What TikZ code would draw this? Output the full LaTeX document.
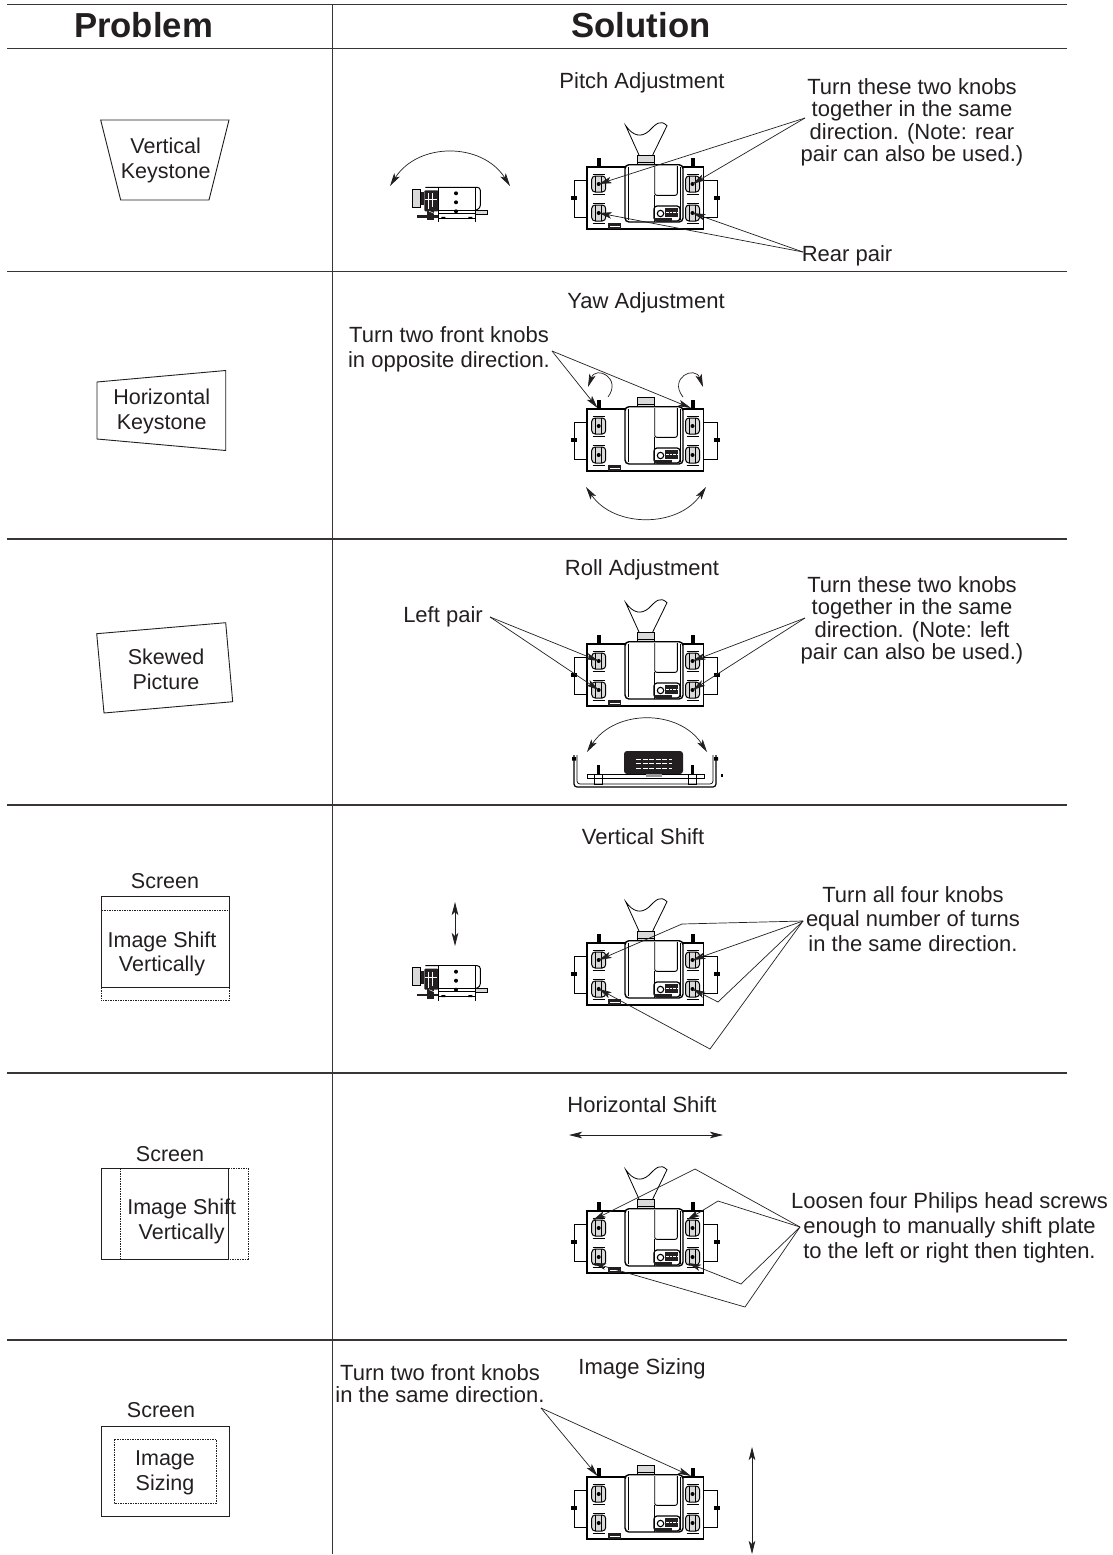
\documentclass[tikz,border=0pt]{standalone}
\usepackage{fontspec}
\setmainfont{Liberation Sans}
\usetikzlibrary{arrows.meta}
\definecolor{inkc}{HTML}{231F20}
\tikzset{
  tablerule/.style={line width=1.3pt,draw=inkc!90},
  outl/.style={line width=.9pt,draw=inkc},
  dashbox/.style={line width=.8pt,draw=inkc,dash pattern=on 1.5pt off 1pt},
  headtxt/.style={inner sep=0,anchor=base,text=inkc,font=\fontsize{34.7}{36}\selectfont\bfseries},
  lbl/.style={inner sep=0,text=inkc,align=center,font=\fontsize{22}{22.5}\selectfont},
  lblw/.style={inner sep=0,text=inkc,align=center,font=\fontsize{22}{24.8}\selectfont},
  lblp/.style={inner sep=0,text=inkc,align=center,font=\fontsize{21.5}{24.5}\selectfont},
  ptr/.style={line width=.7pt,draw=inkc,-{Stealth[length=13pt,width=6.5pt,inset=3pt]}},
  dbl/.style={line width=.7pt,draw=inkc,{Stealth[length=13pt,width=6.5pt,inset=3pt]}-{Stealth[length=13pt,width=6.5pt,inset=3pt]}},
  projtop/.pic={
    \draw[line width=1.2pt] (0,0) rectangle (116.5,62);
    \draw[line width=1pt] (0,13) -- (-13,13) -- (-13,50) -- (0,50);
    \draw[line width=1pt] (116.5,13) -- (130,13) -- (130,50) -- (116.5,50);
    \fill (-16,29) rectangle (-10,33);
    \fill (127,29) rectangle (133,33);
    \foreach \kx in {11.7,105.5} {
      \fill (\kx-2,-9) rectangle (\kx+2,0);
      \foreach \ky in {17,46} {
        \draw[line width=1pt,fill=white!85!black,rounded corners=3.5pt] (\kx-7,\ky-8) rectangle (\kx+7,\ky+8);
        \draw[line width=.5pt] (\kx-3,\ky-8) -- (\kx-3,\ky+8) (\kx+3,\ky-8) -- (\kx+3,\ky+8);
        \draw[line width=.9pt] (\kx-6,\ky-10) -- (\kx+6,\ky-10) (\kx-6,\ky+10) -- (\kx+6,\ky+10);
        \fill (\kx,\ky) circle (2pt);
      }
    }
    \draw[line width=1.4pt,fill=white,rounded corners=4pt] (38,-2.3) rectangle (96,55);
    \draw[line width=.7pt] (41,0) -- (41,53) (93.5,0) -- (93.5,53);
    \draw[line width=.9pt,rounded corners=2pt] (67.7,-1) -- (67.7,28.3) -- (90.3,28.3) -- (90.3,-1);
    \draw[line width=.7pt] (67.7,28.3) -- (67.7,55);
    \draw[line width=1.2pt,rounded corners=3pt] (67,39) rectangle (93,54);
    \draw[line width=1.1pt] (73.5,46.5) circle (3.2pt);
    \fill[inkc] (78,41) rectangle (91,50);
    \draw[white,line width=1.5pt,dash pattern=on 2.5pt off 1pt] (79,45.5) -- (91,45.5);
    \fill[inkc] (67,50.5) rectangle (85,54);
    \fill[inkc] (21.3,56) rectangle (33.7,62);
    \draw[white,line width=.6pt] (22.5,59) -- (32.5,59);
    \draw[line width=1pt,fill=white!85!black] (50,-12) rectangle (67.3,-2.3);
    \draw[line width=.5pt] (50,-5) -- (67.3,-5);
    \coordinate (-ktl) at (11.7,17);
    \coordinate (-ktr) at (105.5,17);
    \coordinate (-kbl) at (11.7,46);
    \coordinate (-kbr) at (105.5,46);
    \coordinate (-ptl) at (10.5,-1);
    \coordinate (-ptr) at (104,-1);
    \coordinate (-stl) at (6,9);
    \coordinate (-str) at (100,9);
    \coordinate (-sbl) at (6,52);
    \coordinate (-sbr) at (101,52);
  },
  projcone/.pic={
    \draw[line width=.8pt] (52,-12) -- (38.7,-41.3) .. controls (46,-31) and (54,-29) .. (62,-36)
      .. controls (69,-43) and (73,-48) .. (80,-41.3) -- (65.7,-12);
  },
  projside/.pic={
    \draw[line width=1pt,fill=white!85!black] (-25.7,2) rectangle (-17.7,20);
    \draw[line width=1pt,rounded corners=3pt] (-13,0) -- (42,0) -- (42,21) -- (37,23);
    \fill[inkc] (-17.7,5) rectangle (-14,18);
    \fill[inkc,rounded corners=1pt] (-14,3) rectangle (0,24);
    \draw[white,line width=.7pt] (-10,6) -- (-10,22) (-6,6) -- (-6,20) (-13,12) -- (-1,12);
    \draw[line width=1pt,fill=white] (0,0) rectangle (37,23);
    \foreach \dy in {6,15,24} \fill (17.7,\dy) circle (2pt);
    \draw[line width=.9pt] (0,26) -- (37,26);
    \draw[line width=.9pt] (0,0) -- (0,35) (37,0) -- (37,35);
    \draw[line width=.9pt] (0,31) -- (37,31);
    \fill (3,29.5) rectangle (7,31.5) (30,29.5) rectangle (34,31.5);
    \draw[line width=.9pt,fill=white!85!black] (37,23) rectangle (49,27);
    \fill[inkc] (-21,28) rectangle (0,30.5);
    \fill[inkc] (-11,22) rectangle (-4,33);
    \draw[white,line width=.5pt] (-9,24) -- (-2,27);
  },
  projroll/.pic={
    \draw[line width=1.2pt,rounded corners=3pt] (0,1) -- (0,33) -- (142,33) -- (142,1);
    \draw[line width=.7pt,rounded corners=3pt] (3,1) -- (3,30) -- (139,30) -- (139,1);
    \fill (-2,3) rectangle (2,6.5) (140,3) rectangle (144,6.5);
    \draw[line width=.8pt] (13,20) rectangle (130,24);
    \fill[inkc,rounded corners=3pt] (50,-3) rectangle (109,20);
    \draw[white,line width=1pt,dash pattern=on 5pt off 1.5pt] (62,5) -- (98,5) (62,9) -- (98,9) (62,14) -- (98,14);
    \fill[white!60!black] (72,20) rectangle (88,23);
    \foreach \bx in {24,118} {
      \fill (\bx-1.5,11) rectangle (\bx+1.5,20);
      \draw[line width=1pt] (\bx-4,20) rectangle (\bx+4,30);
    }
  }
}
\begin{document}
\begin{tikzpicture}[x=1pt,y=-1pt]
\useasboundingbox (0,0) rectangle (1112,1555);

% table rules
\coordinate (tl) at (7,4.7);
\coordinate (tr) at (1067,4.7);
\coordinate (vt) at (332.7,4.7);
\coordinate (vb) at (332.7,1554);
\draw[tablerule] (tl) -- (tr);
\draw[tablerule] (vt) -- (vb);
\foreach \ry in {48.5,271.5,539,805,1073,1340} {
  \coordinate (ra) at (7,\ry);
  \coordinate (rb) at (1067,\ry);
  \draw[tablerule] (ra) -- (rb);
}
\node[headtxt] (problem) at (143.5,37.7) {Problem};
\node[headtxt] (solution) at (641,37.7) {Solution};

% problem column
\node[lblp] (vk) at (165.7,160.5) {Vertical\\Keystone};
\draw[outl] (100.7,120) -- (229,120) -- (209,200) -- (120.7,200) -- cycle;
\node[lblp] (hk) at (161.7,411.5) {Horizontal\\Keystone};
\draw[outl] (97,382) -- (225.7,370.5) -- (225.7,450.5) -- (97,439) -- cycle;
\node[lblp] (sp) at (166,669.5) {Skewed\\Picture};
\draw[outl] (96.7,633.7) -- (225.7,622.7) -- (232.7,701.7) -- (104,713) -- cycle;

\node[lblp] (sv) at (165,881) {Screen};
\draw[outl] (101,896) rectangle (229,987);
\draw[dashbox] (101,910) rectangle (229,1000.7);
\node[lblp] (iv) at (162,954) {Image Shift\\Vertically};

\node[lblp] (sh) at (170,1154) {Screen};
\draw[outl] (101,1168) rectangle (228.5,1259);
\draw[dashbox] (120.7,1168) rectangle (248,1259);
\node[lblp] (ih) at (181.7,1221.5) {Image Shift\\Vertically};

\node[lblp] (sz) at (161,1410) {Screen};
\draw[outl] (101,1426) rectangle (229,1516);
\draw[dashbox] (114,1439) rectangle (216,1503);
\node[lblp] (is) at (165,1473) {Image\\Sizing};

% solution titles
\node[lbl] (pitch) at (642,83) {Pitch Adjustment};
\node[lbl] (yaw) at (646,303) {Yaw Adjustment};
\node[lbl] (roll) at (642,570) {Roll Adjustment};
\node[lbl] (vshift) at (643,837) {Vertical Shift};
\node[lbl] (hshift) at (642,1105) {Horizontal Shift};
\node[lbl] (sizing) at (642,1369) {Image Sizing};

% projectors
\pic (pa) at (587,167) {projtop};
\pic at (587,167) {projcone};
\pic (pb) at (587,409) {projtop};
\pic (pc) at (587,644) {projtop};
\pic at (587,644) {projcone};
\pic (pd) at (587,943) {projtop};
\pic at (587,943) {projcone};
\pic (pe) at (587,1211) {projtop};
\pic at (587,1211) {projcone};
\pic (pf) at (587,1477) {projtop};
\pic at (438.3,187.3) {projside};
\pic at (438.3,965.7) {projside};
\pic at (574,754) {projroll};
\fill (721,774) rectangle (722.5,777);

% pitch
\node[lbl] (pitchtxt) at (912,122.5) {Turn these two knobs\\together in the same\\direction. (Note: rear\\pair can also be used.)};
\node[lbl] (rear) at (847,256) {Rear pair};
\coordinate (pa1) at (805,118);
\coordinate (pa2) at (803,252);
\draw[ptr] (pa1) -- (pa-ktl);
\draw[ptr] (pa1) -- (pa-ktr);
\draw[ptr] (pa2) -- (pa-kbl);
\draw[ptr] (pa2) -- (pa-kbr);
\coordinate (arl) at (390,186);
\coordinate (arr) at (510,186);
\coordinate (arca) at (418,142);
\coordinate (arcb) at (482,142);
\draw[dbl] (arl) .. controls (arca) and (arcb) .. (arr);

% yaw
\node[lblw] (yawtxt) at (449,349.5) {Turn two front knobs\\in opposite direction.};
\coordinate (pb1) at (552,351);
\draw[ptr] (pb1) -- (pb-ptl);
\draw[ptr] (pb1) -- (pb-ptr);
\coordinate (tla) at (608,397);
\coordinate (tlb) at (588,387);
\coordinate (tra) at (683,397);
\coordinate (trb) at (703,387);
\draw[ptr] (tla) .. controls (622,378) and (596,365) .. (tlb);
\draw[ptr] (tra) .. controls (668,378) and (695,365) .. (trb);
\coordinate (byl) at (586,487);
\coordinate (byr) at (706,487);
\coordinate (byca) at (614,528);
\coordinate (bycb) at (678,528);
\draw[dbl] (byl) .. controls (byca) and (bycb) .. (byr);

% roll
\node[lbl] (leftpair) at (443,617) {Left pair};
\coordinate (pc1) at (490,617);
\draw[ptr] (pc1) -- (pc-ktl);
\draw[ptr] (pc1) -- (pc-kbl);
\node[lbl] (rolltxt) at (912,620.5) {Turn these two knobs\\together in the same\\direction. (Note: left\\pair can also be used.)};
\coordinate (pc2) at (805,618);
\draw[ptr] (pc2) -- (pc-ktr);
\draw[ptr] (pc2) -- (pc-kbr);
\coordinate (rll) at (587,752);
\coordinate (rlr) at (707,752);
\coordinate (rlca) at (615,709);
\coordinate (rlcb) at (679,709);
\draw[dbl] (rll) .. controls (rlca) and (rlcb) .. (rlr);

% vertical shift
\coordinate (vsa) at (455,902);
\coordinate (vsb) at (455,946);
\draw[dbl] (vsa) -- (vsb);
\node[lblw] (vstxt) at (913,919) {Turn all four knobs\\equal number of turns\\in the same direction.};
\coordinate (pd1) at (803,921);
\coordinate (pdb1) at (682,924);
\coordinate (pdb2) at (718,1002);
\coordinate (pdb3) at (710,1049);
\draw[ptr] (pd1) -- (pdb1) -- (pd-ktl);
\draw[ptr] (pd1) -- (pd-ktr);
\draw[ptr] (pd1) -- (pdb2) -- (pd-kbr);
\draw[ptr] (pd1) -- (pdb3) -- (pd-kbl);

% horizontal shift
\coordinate (hsa) at (569,1135);
\coordinate (hsb) at (723,1135);
\draw[dbl] (hsa) -- (hsb);
\node[lblw] (hstxt) at (949.5,1227.5) {Loosen four Philips head screws\\enough to manually shift plate\\to the left or right then tighten.};
\coordinate (pe1) at (800,1227);
\coordinate (peb1) at (695,1169);
\coordinate (peb2) at (718,1201);
\coordinate (peb3) at (741,1284);
\coordinate (peb4) at (745,1307);
\draw[ptr] (pe1) -- (peb1) -- (pe-stl);
\draw[ptr] (pe1) -- (peb2) -- (pe-str);
\draw[ptr] (pe1) -- (peb3) -- (pe-sbr);
\draw[ptr] (pe1) -- (peb4) -- (pe-sbl);

% image sizing
\node[lbl] (sizetxt) at (440,1383.5) {Turn two front knobs\\in the same direction.};
\coordinate (pf1) at (541,1408);
\draw[ptr] (pf1) -- (pf-ptl);
\draw[ptr] (pf1) -- (pf-ptr);
\coordinate (isa) at (752,1447);
\coordinate (isb) at (752,1554);
\draw[dbl] (isa) -- (isb);
\end{tikzpicture}
\end{document}
